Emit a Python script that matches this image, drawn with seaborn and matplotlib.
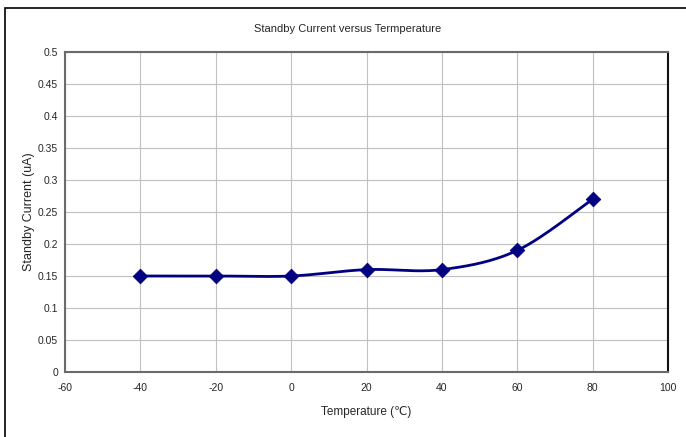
import numpy as np
import pandas as pd
import matplotlib
matplotlib.use("Agg")
import matplotlib.pyplot as plt
import seaborn as sns
from matplotlib.patches import Rectangle

temps = [-40, -20, 0, 20, 40, 60, 80]
currents = [0.15, 0.15, 0.15, 0.16, 0.16, 0.19, 0.27]
x_ticks = [-60, -40, -20, 0, 20, 40, 60, 80, 100]
y_ticks = [0, 0.05, 0.1, 0.15, 0.2, 0.25, 0.3, 0.35, 0.4, 0.45, 0.5]

def excel_smooth(xs, ys, n=30):
    xs = np.asarray(xs, float); ys = np.asarray(ys, float)
    px = np.concatenate([[xs[0]], xs, [xs[-1]]])
    py = np.concatenate([[ys[0]], ys, [ys[-1]]])
    ox, oy = [], []
    for i in range(1, len(px) - 2):
        p0 = np.array([px[i-1], py[i-1]]); p1 = np.array([px[i], py[i]])
        p2 = np.array([px[i+1], py[i+1]]); p3 = np.array([px[i+2], py[i+2]])
        c1 = p1 + (p2 - p0) / 6.0
        c2 = p2 - (p3 - p1) / 6.0
        t = np.linspace(0, 1, n, endpoint=(i == len(px) - 3))
        b = ((1-t)**3)[:, None]*p1 + (3*(1-t)**2*t)[:, None]*c1 + (3*(1-t)*t**2)[:, None]*c2 + (t**3)[:, None]*p2
        ox.extend(b[:, 0]); oy.extend(b[:, 1])
    return np.array(ox), np.array(oy)

sns.set_style("white")
plt.rcParams['font.family'] = ['Liberation Sans', 'DejaVu Sans']

fig = plt.figure(figsize=(6.86, 4.37), dpi=100)
ax = fig.add_axes([65/686, 1-372/437, (668-65)/686, (372-52)/437])

sx, sy = excel_smooth(temps, currents)
smooth_df = pd.DataFrame({"t": sx, "c": sy})
sns.lineplot(data=smooth_df, x="t", y="c", sort=False, color="#000080", linewidth=2.0, ax=ax)
df = pd.DataFrame({"t": temps, "c": currents})
sns.scatterplot(data=df, x="t", y="c", marker="D", s=55, color="#000080", edgecolor="#000080", zorder=5, ax=ax)

ax.set_xlim(-60, 100)
ax.set_ylim(0, 0.5)
ax.set_xticks(x_ticks)
ax.set_yticks(y_ticks)
ax.set_xticklabels([f"{v:g}" for v in x_ticks], fontsize=7.5)
ax.set_yticklabels([f"{v:g}" for v in y_ticks], fontsize=7.5)
ax.tick_params(axis="x", length=0, pad=8)
ax.tick_params(axis="y", length=0, pad=5)
ax.grid(True, color="#c0c0c0", linewidth=0.8)
ax.set_axisbelow(True)
for s in ["top", "left", "bottom"]:
    ax.spines[s].set_color("#6a6a6a")
    ax.spines[s].set_linewidth(1.5)
ax.spines["right"].set_color("#111111")
ax.spines["right"].set_linewidth(1.5)

ax.set_xlabel("Temperature (℃)", fontsize=8.5, labelpad=9)
ax.set_ylabel("Standby Current (uA)", fontsize=9, labelpad=2)
fig.text(348/686, 1-29/437, "Standby Current versus Termperature", ha="center", va="center", fontsize=8)

fig.patches.append(Rectangle((4.5/686, -0.05), 1.2, 1 - 8/437 + 0.05, transform=fig.transFigure,
                             fill=False, edgecolor="black", linewidth=1.2, clip_on=False))

fig.savefig("out.png", dpi=100)
